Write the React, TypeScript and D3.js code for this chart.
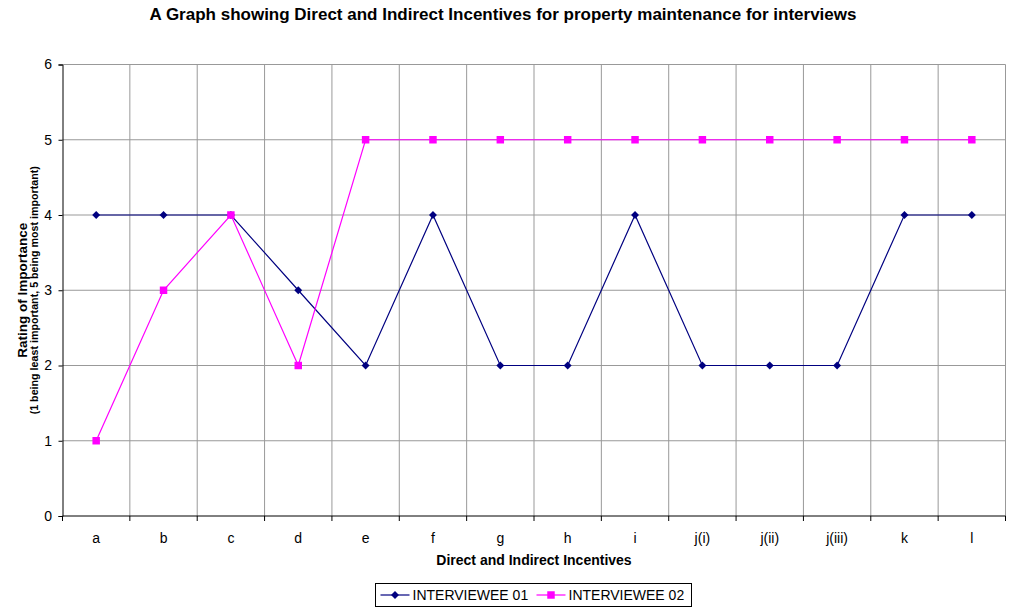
import { useEffect, useRef } from 'react';
import * as d3 from 'd3';

const categories = ['a', 'b', 'c', 'd', 'e', 'f', 'g', 'h', 'i', 'j(i)', 'j(ii)', 'j(iii)', 'k', 'l'];
const interviewee01 = [4, 4, 4, 3, 2, 4, 2, 2, 4, 2, 2, 2, 4, 4];
const interviewee02 = [1, 3, 4, 2, 5, 5, 5, 5, 5, 5, 5, 5, 5, 5];
const yTicks = [0, 1, 2, 3, 4, 5, 6];

const NAVY = '#000080';
const PINK = '#ff00ff';
const GRID = '#999999';
const FONT = '"Liberation Sans", Arial, sans-serif';

export default function App() {
  const svgRef = useRef<SVGSVGElement>(null);

  useEffect(() => {
    if (!svgRef.current) return;
    const svg = d3.select(svgRef.current);
    svg.selectAll('*').remove();

    const margin = { top: 64.5, right: 3.5, bottom: 94, left: 62.5 };
    const W = 1009;
    const H = 610;
    const width = W - margin.left - margin.right;
    const height = H - margin.top - margin.bottom;

    const x = d3.scaleBand<string>().domain(categories).range([0, width]);
    const y = d3.scaleLinear().domain([0, 6]).range([height, 0]);
    const cx = (c: string) => (x(c) ?? 0) + x.bandwidth() / 2;

    svg.append('text')
      .attr('x', 503)
      .attr('y', 20)
      .attr('text-anchor', 'middle')
      .attr('font-family', FONT)
      .attr('font-weight', 'bold')
      .attr('font-size', '17px')
      .text('A Graph showing Direct and Indirect Incentives for property maintenance for interviews');

    const g = svg.append('g').attr('transform', `translate(${margin.left},${margin.top})`);

    // horizontal grid
    g.append('g')
      .selectAll('line')
      .data(yTicks.filter(t => t > 0))
      .join('line')
      .attr('x1', 0)
      .attr('x2', width)
      .attr('y1', d => y(d))
      .attr('y2', d => y(d))
      .attr('stroke', GRID);

    // vertical grid at category boundaries
    const bounds = categories.slice(1).map(c => x(c) ?? 0);
    g.append('g')
      .selectAll('line')
      .data(bounds)
      .join('line')
      .attr('x1', d => d)
      .attr('x2', d => d)
      .attr('y1', 0)
      .attr('y2', height)
      .attr('stroke', GRID);

    // right border
    g.append('line')
      .attr('x1', width).attr('x2', width)
      .attr('y1', 0).attr('y2', height)
      .attr('stroke', GRID);

    // y axis
    const yAxis = g.append('g')
      .call(d3.axisLeft(y).tickValues(yTicks).tickSize(4).tickPadding(6.5).tickFormat(d => `${d}`));
    yAxis.select('.domain').attr('stroke', '#000');
    yAxis.selectAll('line').attr('stroke', '#000');
    yAxis.selectAll('text').attr('font-family', FONT).attr('font-size', '14px').attr('fill', '#000');

    // x axis
    const xAxis = g.append('g').attr('transform', `translate(0,${height})`);
    xAxis.append('line')
      .attr('x1', 0).attr('x2', width)
      .attr('stroke', '#000');
    xAxis.selectAll('line.tick')
      .data([0, ...bounds, width])
      .join('line')
      .attr('class', 'tick')
      .attr('x1', d => d).attr('x2', d => d)
      .attr('y1', 0).attr('y2', 5)
      .attr('stroke', '#000');
    xAxis.selectAll('text')
      .data(categories)
      .join('text')
      .attr('x', d => cx(d))
      .attr('y', 27)
      .attr('text-anchor', 'middle')
      .attr('font-family', FONT)
      .attr('font-size', '14px')
      .text(d => d);

    const line = d3.line<number>()
      .x((_, i) => cx(categories[i]))
      .y(d => y(d));

    g.append('path')
      .datum(interviewee01)
      .attr('fill', 'none')
      .attr('stroke', NAVY)
      .attr('stroke-width', 1.2)
      .attr('d', line);

    g.append('path')
      .datum(interviewee02)
      .attr('fill', 'none')
      .attr('stroke', PINK)
      .attr('stroke-width', 1.2)
      .attr('d', line);

    const diamond = d3.symbol().type(d3.symbolDiamond2).size(40);
    const square = d3.symbol().type(d3.symbolSquare).size(56);

    g.append('g')
      .selectAll('path')
      .data(interviewee01)
      .join('path')
      .attr('transform', (d, i) => `translate(${cx(categories[i])},${y(d)})`)
      .attr('d', diamond)
      .attr('fill', NAVY);

    g.append('g')
      .selectAll('path')
      .data(interviewee02)
      .join('path')
      .attr('transform', (d, i) => `translate(${cx(categories[i])},${y(d)})`)
      .attr('d', square)
      .attr('fill', PINK);

    // axis titles
    svg.append('text')
      .attr('x', margin.left + width / 2)
      .attr('y', 565)
      .attr('text-anchor', 'middle')
      .attr('font-family', FONT)
      .attr('font-weight', 'bold')
      .attr('font-size', '14px')
      .text('Direct and Indirect Incentives');

    const yc = margin.top + height / 2;
    svg.append('text')
      .attr('transform', `translate(27,${yc}) rotate(-90)`)
      .attr('text-anchor', 'middle')
      .attr('font-family', FONT)
      .attr('font-weight', 'bold')
      .attr('font-size', '13.5px')
      .text('Rating of Importance');
    svg.append('text')
      .attr('transform', `translate(37.5,${yc}) rotate(-90)`)
      .attr('text-anchor', 'middle')
      .attr('font-family', FONT)
      .attr('font-weight', 'bold')
      .attr('font-size', '10.7px')
      .text('(1 being least important, 5 being most important)');

    // legend
    const lg = svg.append('g').attr('transform', 'translate(375.5,583.5)');
    lg.append('rect')
      .attr('width', 316)
      .attr('height', 23)
      .attr('fill', '#fff')
      .attr('stroke', '#000');
    const items = [
      { name: 'INTERVIEWEE 01', color: NAVY, sym: diamond, x0: 5 },
      { name: 'INTERVIEWEE 02', color: PINK, sym: square, x0: 161 },
    ];
    items.forEach(it => {
      const row = lg.append('g').attr('transform', `translate(${it.x0},11.5)`);
      row.append('line').attr('x1', 0).attr('x2', 29).attr('stroke', it.color).attr('stroke-width', 1.2);
      row.append('path').attr('transform', 'translate(14.5,0)').attr('d', it.sym).attr('fill', it.color);
      row.append('text')
        .attr('x', 32)
        .attr('y', 5)
        .attr('font-family', FONT)
        .attr('font-size', '14px')
        .text(it.name);
    });
  }, []);

  return (
    <svg
      ref={svgRef}
      width={1009}
      height={610}
      style={{ position: 'absolute', left: 0, top: 0, background: '#fff' }}
    />
  );
}
